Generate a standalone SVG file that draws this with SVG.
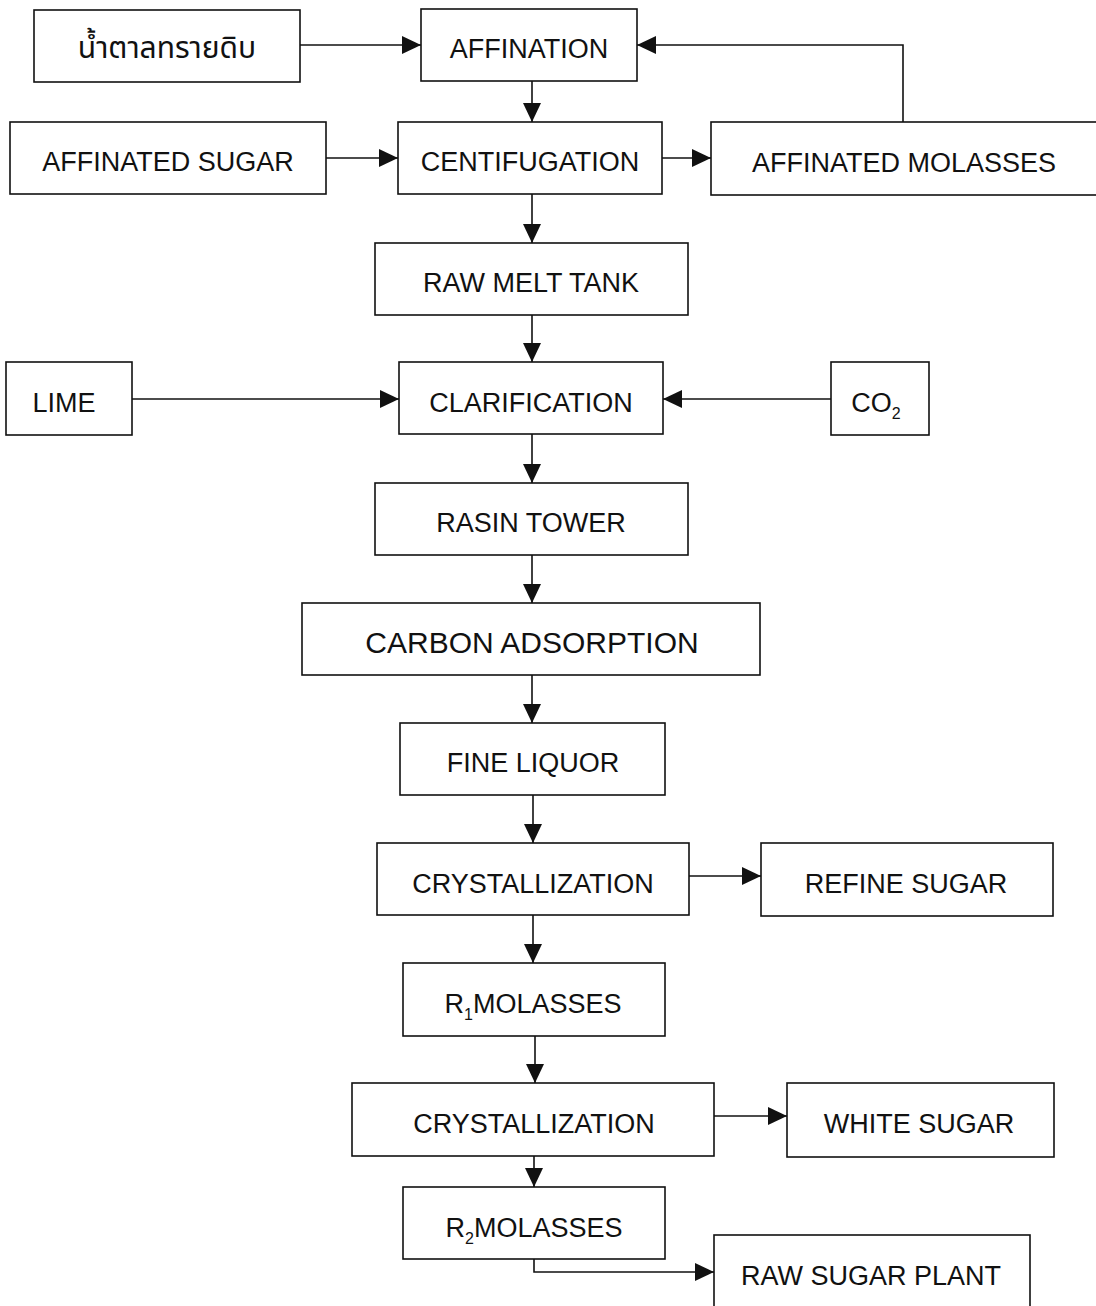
<svg xmlns="http://www.w3.org/2000/svg" width="1096" height="1306" viewBox="0 0 1096 1306">
<style>
.box{fill:#fff;stroke:#111;stroke-width:1.6}
.t{font-family:"Liberation Sans",Arial,sans-serif;font-size:27px;fill:#111;text-anchor:middle}
.big{font-size:30px}
.th{font-family:"Noto Sans Thai","Loma","Garuda","Norasi","DejaVu Sans","Noto Sans",sans-serif;font-size:30px}
.c{fill:none;stroke:#111;stroke-width:1.6}
</style>
<defs>
<marker id="ah" markerUnits="userSpaceOnUse" markerWidth="20" markerHeight="18" refX="19" refY="9" orient="auto">
<path d="M0,0 L19,9 L0,18 Z" fill="#111"/>
</marker>
</defs>
<rect width="1096" height="1306" fill="#fff"/>
<g id="connectors">
<line class="c" x1="300" y1="45" x2="421" y2="45" marker-end="url(#ah)"/>
<polyline class="c" points="903,122 903,45 637,45" marker-end="url(#ah)"/>
<line class="c" x1="532" y1="81" x2="532" y2="122" marker-end="url(#ah)"/>
<line class="c" x1="326" y1="158" x2="398" y2="158" marker-end="url(#ah)"/>
<line class="c" x1="662" y1="158" x2="711" y2="158" marker-end="url(#ah)"/>
<line class="c" x1="532" y1="194" x2="532" y2="243" marker-end="url(#ah)"/>
<line class="c" x1="532" y1="315" x2="532" y2="362" marker-end="url(#ah)"/>
<line class="c" x1="132" y1="399" x2="399" y2="399" marker-end="url(#ah)"/>
<line class="c" x1="831" y1="399" x2="663" y2="399" marker-end="url(#ah)"/>
<line class="c" x1="532" y1="434" x2="532" y2="483" marker-end="url(#ah)"/>
<line class="c" x1="532" y1="555" x2="532" y2="603" marker-end="url(#ah)"/>
<line class="c" x1="532" y1="675" x2="532" y2="723" marker-end="url(#ah)"/>
<line class="c" x1="533" y1="795" x2="533" y2="843" marker-end="url(#ah)"/>
<line class="c" x1="689" y1="876" x2="761" y2="876" marker-end="url(#ah)"/>
<line class="c" x1="533" y1="915" x2="533" y2="963" marker-end="url(#ah)"/>
<line class="c" x1="535" y1="1036" x2="535" y2="1083" marker-end="url(#ah)"/>
<line class="c" x1="714" y1="1116" x2="787" y2="1116" marker-end="url(#ah)"/>
<line class="c" x1="534" y1="1156" x2="534" y2="1187" marker-end="url(#ah)"/>
<polyline class="c" points="534,1259 534,1272 714,1272" marker-end="url(#ah)"/>
</g>
<g id="raw-sugar"><rect class="box" x="34" y="10" width="266" height="72"/><text class="th" x="167" y="58" text-anchor="middle" fill="#111">น้ำตาลทรายดิบ</text></g>
<g id="affination"><rect class="box" x="421" y="9" width="216" height="72"/><text class="t" x="529" y="58">AFFINATION</text></g>
<g id="affinated-sugar"><rect class="box" x="10" y="122" width="316" height="72"/><text class="t" x="168" y="171">AFFINATED SUGAR</text></g>
<g id="centifugation"><rect class="box" x="398" y="122" width="264" height="72"/><text class="t" x="530" y="171">CENTIFUGATION</text></g>
<g id="affinated-molasses"><rect class="box" x="711" y="122" width="400" height="73"/><text class="t" x="904" y="172">AFFINATED MOLASSES</text></g>
<g id="raw-melt-tank"><rect class="box" x="375" y="243" width="313" height="72"/><text class="t" x="531" y="292">RAW MELT TANK</text></g>
<g id="lime"><rect class="box" x="6" y="362" width="126" height="73"/><text class="t" x="64" y="412">LIME</text></g>
<g id="clarification"><rect class="box" x="399" y="362" width="264" height="72"/><text class="t" x="531" y="412">CLARIFICATION</text></g>
<g id="co2"><rect class="box" x="831" y="362" width="98" height="73"/><text class="t" x="876" y="412">CO<tspan font-size="16" dy="7">2</tspan></text></g>
<g id="rasin-tower"><rect class="box" x="375" y="483" width="313" height="72"/><text class="t" x="531" y="532">RASIN TOWER</text></g>
<g id="carbon-adsorption"><rect class="box" x="302" y="603" width="458" height="72"/><text class="t big" x="532" y="653">CARBON ADSORPTION</text></g>
<g id="fine-liquor"><rect class="box" x="400" y="723" width="265" height="72"/><text class="t" x="533" y="772">FINE LIQUOR</text></g>
<g id="crystallization-1"><rect class="box" x="377" y="843" width="312" height="72"/><text class="t" x="533" y="893">CRYSTALLIZATION</text></g>
<g id="refine-sugar"><rect class="box" x="761" y="843" width="292" height="73"/><text class="t" x="906" y="893">REFINE SUGAR</text></g>
<g id="r1-molasses"><rect class="box" x="403" y="963" width="262" height="73"/><text class="t" x="533" y="1013">R<tspan font-size="16" dy="7">1</tspan><tspan dy="-7">MOLASSES</tspan></text></g>
<g id="crystallization-2"><rect class="box" x="352" y="1083" width="362" height="73"/><text class="t" x="534" y="1133">CRYSTALLIZATION</text></g>
<g id="white-sugar"><rect class="box" x="787" y="1083" width="267" height="74"/><text class="t" x="919" y="1133">WHITE SUGAR</text></g>
<g id="r2-molasses"><rect class="box" x="403" y="1187" width="262" height="72"/><text class="t" x="534" y="1237">R<tspan font-size="16" dy="7">2</tspan><tspan dy="-7">MOLASSES</tspan></text></g>
<g id="raw-sugar-plant"><rect class="box" x="714" y="1235" width="316" height="90"/><text class="t" x="871" y="1285">RAW SUGAR PLANT</text></g>
</svg>
